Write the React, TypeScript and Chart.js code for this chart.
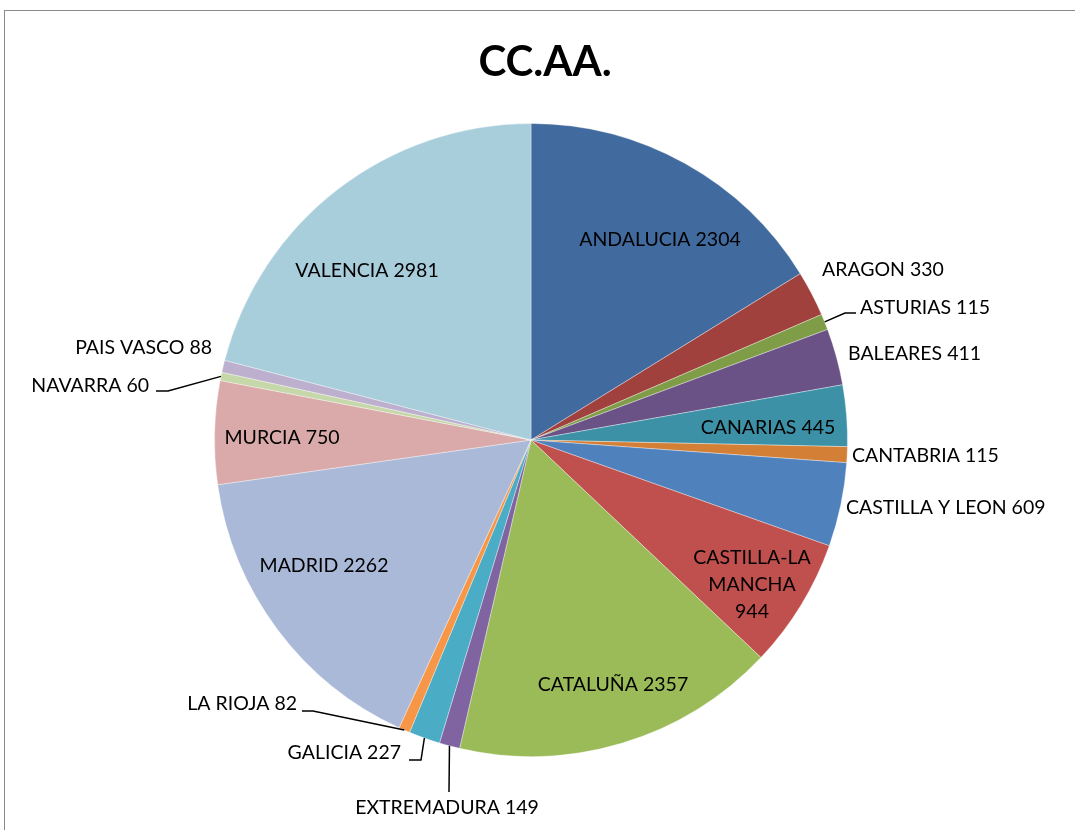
import React, { useEffect, useRef } from 'react';
import { Chart, registerables } from 'chart.js';

Chart.register(...registerables);

const TITLE = 'CC.AA.';

const REGIONS = [
  'ANDALUCIA',
  'ARAGON',
  'ASTURIAS',
  'BALEARES',
  'CANARIAS',
  'CANTABRIA',
  'CASTILLA Y LEON',
  'CASTILLA-LA MANCHA',
  'CATALUÑA',
  'EXTREMADURA',
  'GALICIA',
  'LA RIOJA',
  'MADRID',
  'MURCIA',
  'NAVARRA',
  'PAIS VASCO',
  'VALENCIA',
];

const COUNTS = [2304, 330, 115, 411, 445, 115, 609, 944, 2357, 149, 227, 82, 2262, 750, 60, 88, 2981];

const COLORS = [
  '#416A9E',
  '#A0413E',
  '#7F9C47',
  '#6A5186',
  '#3C91A7',
  '#D47F36',
  '#4F81BD',
  '#C0504D',
  '#9BBB59',
  '#8064A2',
  '#4BACC6',
  '#F79646',
  '#AAB9D7',
  '#D9AAA9',
  '#C6D8AA',
  '#BDB0CE',
  '#A8CEDC',
];

type Layout = {
  dx: number;
  dy: number;
  align: CanvasTextAlign;
  leader?: [number, number][];
  breakWords?: boolean;
};

// label placement, as offsets (px) from the pie centre
const LABEL_LAYOUT: Layout[] = [
  { dx: 129, dy: -200, align: 'center' },
  { dx: 291, dy: -170, align: 'left' },
  { dx: 329, dy: -132, align: 'left', leader: [[314, -127], [325, -127]] },
  { dx: 317, dy: -86, align: 'left' },
  { dx: 237, dy: -12, align: 'center' },
  { dx: 321, dy: 16, align: 'left' },
  { dx: 315, dy: 68, align: 'left' },
  { dx: 221, dy: 145, align: 'center', breakWords: true },
  { dx: 82, dy: 245, align: 'center' },
  { dx: -84, dy: 368, align: 'center', leader: [[-82, 352]] },
  { dx: -130, dy: 313, align: 'right', leader: [[-110, 320], [-122, 320]] },
  { dx: -234, dy: 264, align: 'right', leader: [[-218, 271], [-229, 271]] },
  { dx: -207, dy: 126, align: 'center' },
  { dx: -249, dy: -2, align: 'center' },
  { dx: -382, dy: -54, align: 'right', leader: [[-363, -49], [-375, -49]] },
  { dx: -319, dy: -92, align: 'right' },
  { dx: -164, dy: -169, align: 'center' },
];

const FONT = 'Lato, "Open Sans", sans-serif';

const labelPlugin = {
  id: 'sliceLabels',
  afterDatasetsDraw(chart: any) {
    const ctx: CanvasRenderingContext2D = chart.ctx;
    const meta = chart.getDatasetMeta(0);
    ctx.save();
    meta.data.forEach((el: any, i: number) => {
      const { x, y, startAngle, endAngle, outerRadius } = el.getProps(
        ['x', 'y', 'startAngle', 'endAngle', 'outerRadius'],
        true
      );
      const lay = LABEL_LAYOUT[i];
      if (!lay) return;
      const text = `${REGIONS[i]} ${COUNTS[i]}`;
      const lines = lay.breakWords ? text.split(' ') : [text];
      const tx = x + lay.dx;
      const ty = y + lay.dy;
      if (lay.leader) {
        const mid = (startAngle + endAngle) / 2;
        ctx.beginPath();
        ctx.moveTo(x + outerRadius * Math.cos(mid), y + outerRadius * Math.sin(mid));
        lay.leader.forEach(([lx, ly]) => ctx.lineTo(x + lx, y + ly));
        ctx.strokeStyle = '#000';
        ctx.lineWidth = 1.5;
        ctx.stroke();
      }
      ctx.font = `19.5px ${FONT}`;
      ctx.fillStyle = '#000';
      ctx.textAlign = lay.align;
      ctx.textBaseline = 'middle';
      const lh = 27;
      lines.forEach((ln, k) => {
        ctx.fillText(ln, tx, ty + (k - (lines.length - 1) / 2) * lh);
      });
    });
    ctx.font = `bold 42px ${FONT}`;
    ctx.fillStyle = '#000';
    ctx.textAlign = 'center';
    ctx.textBaseline = 'middle';
    ctx.fillText(TITLE, 545, 62);
    ctx.restore();
  },
};

export default function App() {
  const canvasRef = useRef<HTMLCanvasElement | null>(null);

  useEffect(() => {
    if (!canvasRef.current) return;
    const chart = new Chart(canvasRef.current, {
      type: 'pie',
      data: {
        labels: REGIONS,
        datasets: [
          {
            data: COUNTS,
            backgroundColor: COLORS,
            borderColor: 'rgba(255,255,255,0.35)',
            borderWidth: 1,
          },
        ],
      },
      options: {
        responsive: false,
        maintainAspectRatio: false,
        animation: false,
        layout: { padding: { left: 214, right: 227, top: 123, bottom: 73 } },
        plugins: {
          legend: { display: false },
          title: { display: false },
          tooltip: { enabled: false },
        },
      },
      plugins: [labelPlugin],
    });
    return () => chart.destroy();
  }, []);

  return (
    <div
      style={{
        position: 'absolute',
        left: 0,
        top: 0,
        width: 1075,
        height: 830,
        overflow: 'hidden',
        background: '#fff',
      }}
    >
      <div
        style={{
          position: 'absolute',
          left: 4,
          top: 10,
          width: 1200,
          height: 1000,
          border: '1px solid #8a8a8a',
        }}
      />
      <canvas
        ref={canvasRef}
        width={1075}
        height={830}
        style={{ position: 'absolute', left: 0, top: 0, width: 1075, height: 830 }}
      />
    </div>
  );
}
